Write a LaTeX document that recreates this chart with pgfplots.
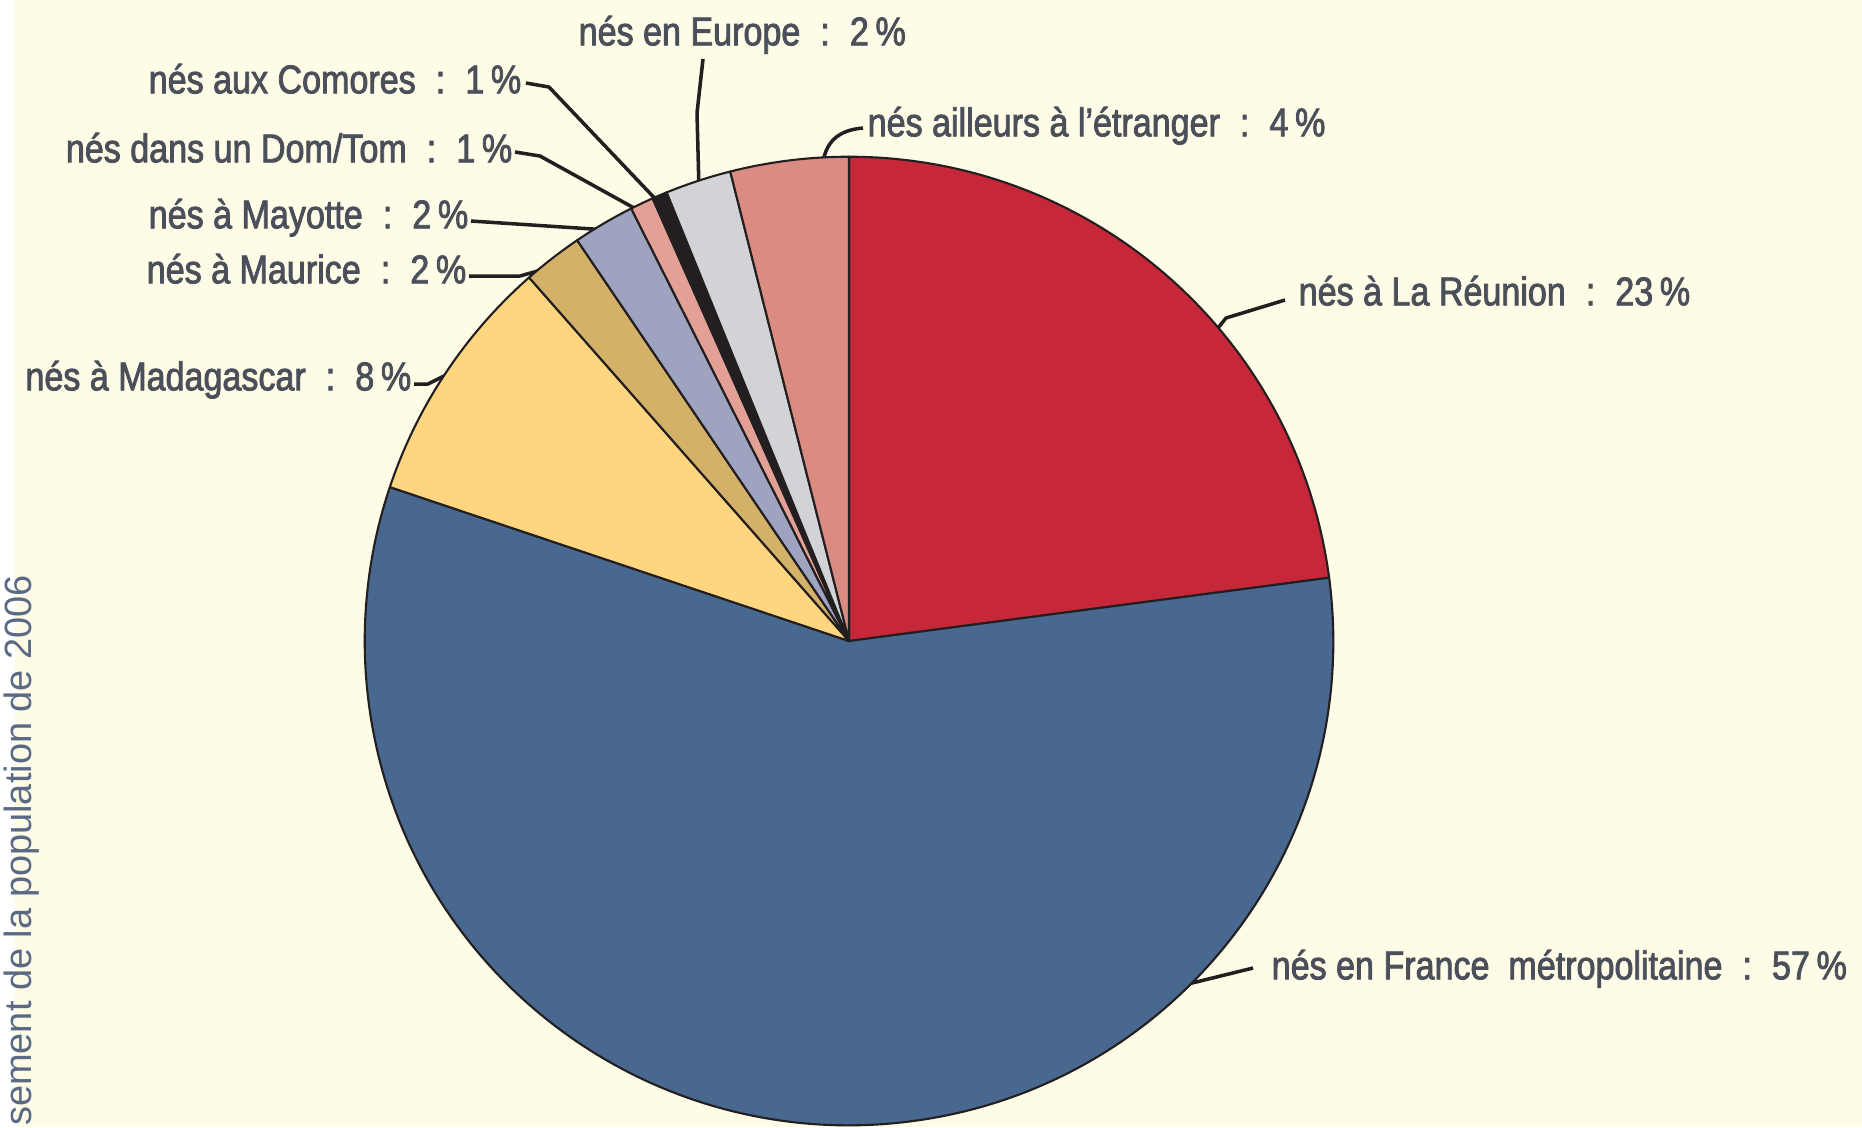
\documentclass[border=0pt]{standalone}
\usepackage{pgfplots}
\pgfplotsset{compat=1.18}
\usepackage{pgfplotstable}
\usepackage{fontspec}
\setmainfont{Liberation Sans}[FakeStretch=0.85,FakeBold=2]
\newfontfamily\srcfont{Liberation Sans}
\definecolor{bgcream}{HTML}{FEFBE7}
\definecolor{txt}{HTML}{4A4F5A}
\definecolor{srcblue}{HTML}{5A6A85}
\definecolor{edge}{HTML}{231F20}
\definecolor{slice0}{HTML}{C6283A}
\definecolor{slice1}{HTML}{48688F}
\definecolor{slice2}{HTML}{FFD67F}
\definecolor{slice3}{HTML}{D4B168}
\definecolor{slice4}{HTML}{9EA3C0}
\definecolor{slice5}{HTML}{E3A096}
\definecolor{slice6}{HTML}{231F20}
\definecolor{slice7}{HTML}{D1D3D6}
\definecolor{slice8}{HTML}{DB8C82}
\pgfplotstableread{
label value
Reunion 22.90
France 57.20
Madagascar 8.36
Maurice 2.00
Mayotte 2.06
DomTom 0.78
Comores 0.50
Europe 2.20
Ailleurs 3.94
}\piedata
\newcommand\col{\enspace:\enspace}
\tikzset{lab/.style={text=txt,inner sep=0pt,font=\fontsize{11.4}{13}\selectfont}}
\begin{document}
\begin{tikzpicture}
\gdef\piesum{0}%
\pgfplotstableforeachcolumnelement{value}\of\piedata\as\v{\pgfmathsetmacro\t{\piesum+\v}\xdef\piesum{\t}}%
\gdef\cum{90}%
\pgfplotstableforeachcolumnelement{value}\of\piedata\as\v{%
 \expandafter\xdef\csname sa\pgfplotstablerow\endcsname{\cum}%
 \pgfmathsetmacro\t{\cum-\v/\piesum*360}%
 \xdef\cum{\t}%
 \expandafter\xdef\csname ea\pgfplotstablerow\endcsname{\cum}}%
\begin{axis}[x=0.01cm,y=0.01cm,xmin=0,xmax=1862,ymin=0,ymax=1127,
  y dir=reverse,hide axis,clip=false]
\fill[bgcream] (axis cs:0,0) rectangle (axis cs:1862,1127);
\fill[white] (axis cs:0,0) rectangle (axis cs:15,1127);
\coordinate (bbsw) at (axis cs:0,1127);
\coordinate (bbne) at (axis cs:1862,0);
% leader lines
\begin{scope}[draw=edge,line width=1pt,line join=round]
\draw (axis cs:703,59) -- (axis cs:697,113) -- (axis cs:699,190);
\draw (axis cs:526,83) -- (axis cs:549,87) -- (axis cs:664,208);
\draw (axis cs:515,152) -- (axis cs:540,156) -- (axis cs:645,214);
\draw (axis cs:471,221) -- (axis cs:608,230);
\draw (axis cs:469,276) -- (axis cs:520,276) -- (axis cs:548,268);
\draw (axis cs:414,384) -- (axis cs:428,384) -- (axis cs:452,372);
\draw (axis cs:863,128) .. controls (axis cs:840,130) and (axis cs:824,140) .. (axis cs:822,170);
\draw (axis cs:1285,300) -- (axis cs:1226,318) -- (axis cs:1210,338);
\draw (axis cs:1253,968) -- (axis cs:1188,984);
\end{scope}
% slices
\pgfplotsinvokeforeach{0,...,8}{%
\filldraw[fill=slice#1,draw=edge,line width=0.6pt,line join=round]
 (axis cs:849,641) -- ++(\csname sa#1\endcsname:4.84cm)
 arc[start angle=\csname sa#1\endcsname,end angle=\csname ea#1\endcsname,radius=4.84cm] -- cycle;}
% labels
\node[lab,anchor=mid west] at (axis cs:578,36) {nés en Europe\col 2\,\%};
\node[lab,anchor=mid east] at (axis cs:522,84) {nés aux Comores\col 1\,\%};
\node[lab,anchor=mid east] at (axis cs:513,153) {nés dans un Dom/Tom\col 1\,\%};
\node[lab,anchor=mid east] at (axis cs:469,219) {nés à Mayotte\col 2\,\%};
\node[lab,anchor=mid east] at (axis cs:467,274) {nés à Maurice\col 2\,\%};
\node[lab,anchor=mid east] at (axis cs:412,381) {nés à Madagascar\col 8\,\%};
\node[lab,anchor=mid west] at (axis cs:867,127) {nés ailleurs à l'étranger\col 4\,\%};
\node[lab,anchor=mid west] at (axis cs:1298,296) {nés à La Réunion\col 23\,\%};
\node[lab,anchor=mid west] at (axis cs:1271,970) {nés en France~ métropolitaine\col 57\,\%};
\node[rotate=90,anchor=base east,text=srcblue,inner sep=0pt,font=\srcfont\fontsize{10.8}{13}\selectfont] at (axis cs:32,574) {Source : Insee, recensement de la population de 2006};
\end{axis}
\pgfresetboundingbox
\path[use as bounding box] (bbsw) rectangle (bbne);
\end{tikzpicture}
\end{document}
